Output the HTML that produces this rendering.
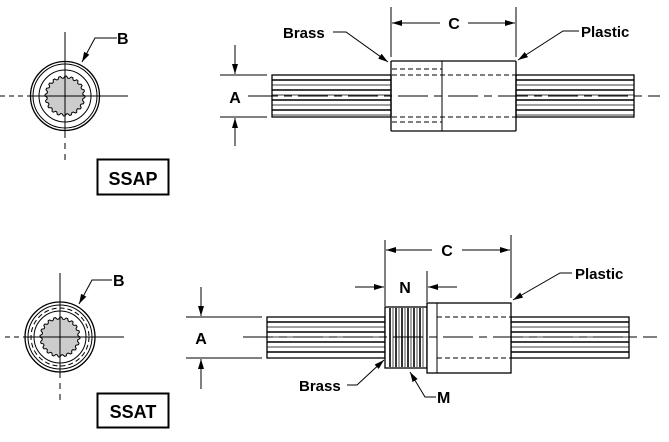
<!DOCTYPE html>
<html><head><meta charset="utf-8"><style>
html,body{margin:0;padding:0;background:#fff;width:669px;height:442px;overflow:hidden}
svg{display:block}
text{font-family:"Liberation Sans",Arial,sans-serif;font-weight:bold;fill:#000}
</style></head><body>
<svg id="s" width="669" height="442" viewBox="0 0 669 442" xmlns="http://www.w3.org/2000/svg">
<defs>
<marker id="ar" viewBox="0 0 10 6" refX="10" refY="3" markerWidth="10" markerHeight="6" orient="auto" markerUnits="userSpaceOnUse"><path d="M0,0 L10,3 L0,6 z" fill="#000"/></marker>
</defs>
<g stroke="#000" fill="none" stroke-width="1">
<circle cx="65" cy="96" r="34.5" stroke-width="1.3"/>
<circle cx="65" cy="96" r="32"/>
<circle cx="65" cy="96" r="26"/>
<path id="g1" fill="#ccc" stroke="#000"/>
<line x1="30" y1="96" x2="128" y2="96"/>
<line x1="0" y1="96" x2="30" y2="96" stroke-dasharray="5,4"/>
<line x1="65" y1="32" x2="65" y2="132"/>
<line x1="65" y1="132" x2="65" y2="160" stroke-dasharray="6,5"/>
<polyline points="117,38 95,38 82,62" marker-end="url(#ar)"/>
<rect x="97.5" y="159.5" width="71" height="35" stroke-width="2"/>

<rect x="272" y="75" width="119" height="42" stroke-width="1.3"/>
<rect x="516" y="75" width="118" height="42" stroke-width="1.3"/>
<g id="st1"></g>
<rect x="391" y="61" width="125" height="70" rx="1" stroke-width="1.3"/>
<line x1="442" y1="61" x2="442" y2="131"/>
<g stroke-dasharray="5,3">
<line x1="392" y1="69" x2="442" y2="69"/><line x1="392" y1="75" x2="516" y2="75"/>
<line x1="392" y1="117" x2="516" y2="117"/><line x1="392" y1="122" x2="442" y2="122"/>
</g>
<line x1="248" y1="96" x2="660" y2="96" stroke-dasharray="30,6,8,6"/>
<line x1="391" y1="7" x2="391" y2="57"/><line x1="516" y1="7" x2="516" y2="57"/>
<line x1="440" y1="23" x2="392" y2="23" marker-end="url(#ar)"/>
<line x1="468" y1="23" x2="515" y2="23" marker-end="url(#ar)"/>
<polyline points="333,32 346,32 388,62" marker-end="url(#ar)"/>
<polyline points="579,31 563,31 518,60" marker-end="url(#ar)"/>
<line x1="220" y1="75" x2="267" y2="75"/><line x1="220" y1="117" x2="267" y2="117"/>
<line x1="235" y1="45" x2="235" y2="74" marker-end="url(#ar)"/>
<line x1="235" y1="146" x2="235" y2="118" marker-end="url(#ar)"/>

<circle cx="60" cy="337" r="35" stroke-width="1.3"/>
<circle cx="60" cy="337" r="32"/>
<circle cx="60" cy="337" r="29" stroke-dasharray="5,3"/>
<circle cx="60" cy="337" r="26"/>
<path id="g2" fill="#ccc" stroke="#000"/>
<line x1="25" y1="337" x2="124" y2="337"/>
<line x1="5" y1="337" x2="25" y2="337" stroke-dasharray="5,4"/>
<line x1="60" y1="273" x2="60" y2="372"/>
<line x1="60" y1="372" x2="60" y2="402" stroke-dasharray="6,5"/>
<polyline points="112,280 92,280 79,304" marker-end="url(#ar)"/>
<rect x="97.5" y="393.5" width="71" height="34" stroke-width="2"/>

<rect x="267" y="317" width="118" height="41" stroke-width="1.3"/>
<rect x="511" y="317" width="118" height="41" stroke-width="1.3"/>
<g id="st2"></g>
<rect x="385" y="307" width="42" height="61" fill="#fff" stroke-width="1.3"/>
<g id="th"></g>
<rect x="427" y="303" width="84" height="70" stroke-width="1.3" fill="#fff"/>
<line x1="437" y1="303" x2="437" y2="373"/>
<g stroke-dasharray="5,3"><line x1="437" y1="317" x2="511" y2="317"/><line x1="437" y1="358" x2="511" y2="358"/></g>
<line x1="243" y1="337" x2="657" y2="337" stroke-dasharray="30,6,8,6"/>
<line x1="385" y1="240" x2="385" y2="306"/><line x1="511" y1="235" x2="511" y2="298"/>
<line x1="427" y1="271" x2="427" y2="302"/>
<line x1="432" y1="250" x2="386" y2="250" marker-end="url(#ar)"/>
<line x1="462" y1="250" x2="510" y2="250" marker-end="url(#ar)"/>
<line x1="355" y1="287" x2="384" y2="287" marker-end="url(#ar)"/>
<line x1="457" y1="287" x2="428" y2="287" marker-end="url(#ar)"/>
<polyline points="347,385 357,385 384,360" marker-end="url(#ar)"/>
<polyline points="436,397 425,397 410,372" marker-end="url(#ar)"/>
<polyline points="572,273 560,273 513,300" marker-end="url(#ar)"/>
<line x1="186" y1="317" x2="262" y2="317"/><line x1="186" y1="358" x2="262" y2="358"/>
<line x1="201" y1="287" x2="201" y2="316" marker-end="url(#ar)"/>
<line x1="201" y1="389" x2="201" y2="359" marker-end="url(#ar)"/>
</g>
<text x="117" y="44" font-size="16">B</text>
<text x="133" y="185" font-size="18" text-anchor="middle">SSAP</text>
<text x="454" y="29" font-size="16" text-anchor="middle">C</text>
<text x="283" y="38" font-size="15">Brass</text>
<text x="581" y="37" font-size="15">Plastic</text>
<text x="235" y="103" font-size="16" text-anchor="middle">A</text>
<text x="113" y="286" font-size="16">B</text>
<text x="133" y="418" font-size="18" text-anchor="middle">SSAT</text>
<text x="447" y="256" font-size="16" text-anchor="middle">C</text>
<text x="405" y="293" font-size="16" text-anchor="middle">N</text>
<text x="201" y="344" font-size="16" text-anchor="middle">A</text>
<text x="299" y="391" font-size="15">Brass</text>
<text x="437" y="403" font-size="16">M</text>
<text x="575" y="279" font-size="15">Plastic</text>
</svg>
<script>
function gear(cx,cy,r1,r2,n){let d="";for(let i=0;i<n*4;i++){let a=i/(n*4)*Math.PI*2;let r=(i%4<2)?r2:r1;d+=(i?"L":"M")+(cx+r*Math.cos(a)).toFixed(1)+","+(cy+r*Math.sin(a)).toFixed(1);}return d+"Z";}
document.getElementById("g1").setAttribute("d",gear(65,96,18,20,20));
document.getElementById("g2").setAttribute("d",gear(60,337,18,20,20));
const NS="http://www.w3.org/2000/svg";
function ln(g,x1,y1,x2,y2,w){let l=document.createElementNS(NS,"line");l.setAttribute("x1",x1);l.setAttribute("y1",y1);l.setAttribute("x2",x2);l.setAttribute("y2",y2);l.setAttribute("stroke-width",w);document.getElementById(g).appendChild(l);}
[[272,391,75,117],[516,634,75,117]].forEach(s=>{let k=0;for(let y=s[2]+5;y<s[3]-1;y+=5){ln("st1",s[0],y,s[1],y,(k++%2)?0.8:1.4);}});
[[267,385,317,358],[511,629,317,358]].forEach(s=>{let k=0;for(let y=s[2]+5;y<s[3]-1;y+=5){ln("st2",s[0],y,s[1],y,(k++%2)?0.8:1.4);}});
for(let x=390;x<426;x+=6){ln("th",x,308,x,367,1.6);ln("th",x+3,308,x+3,367,0.7);}
</script>
</body></html>
